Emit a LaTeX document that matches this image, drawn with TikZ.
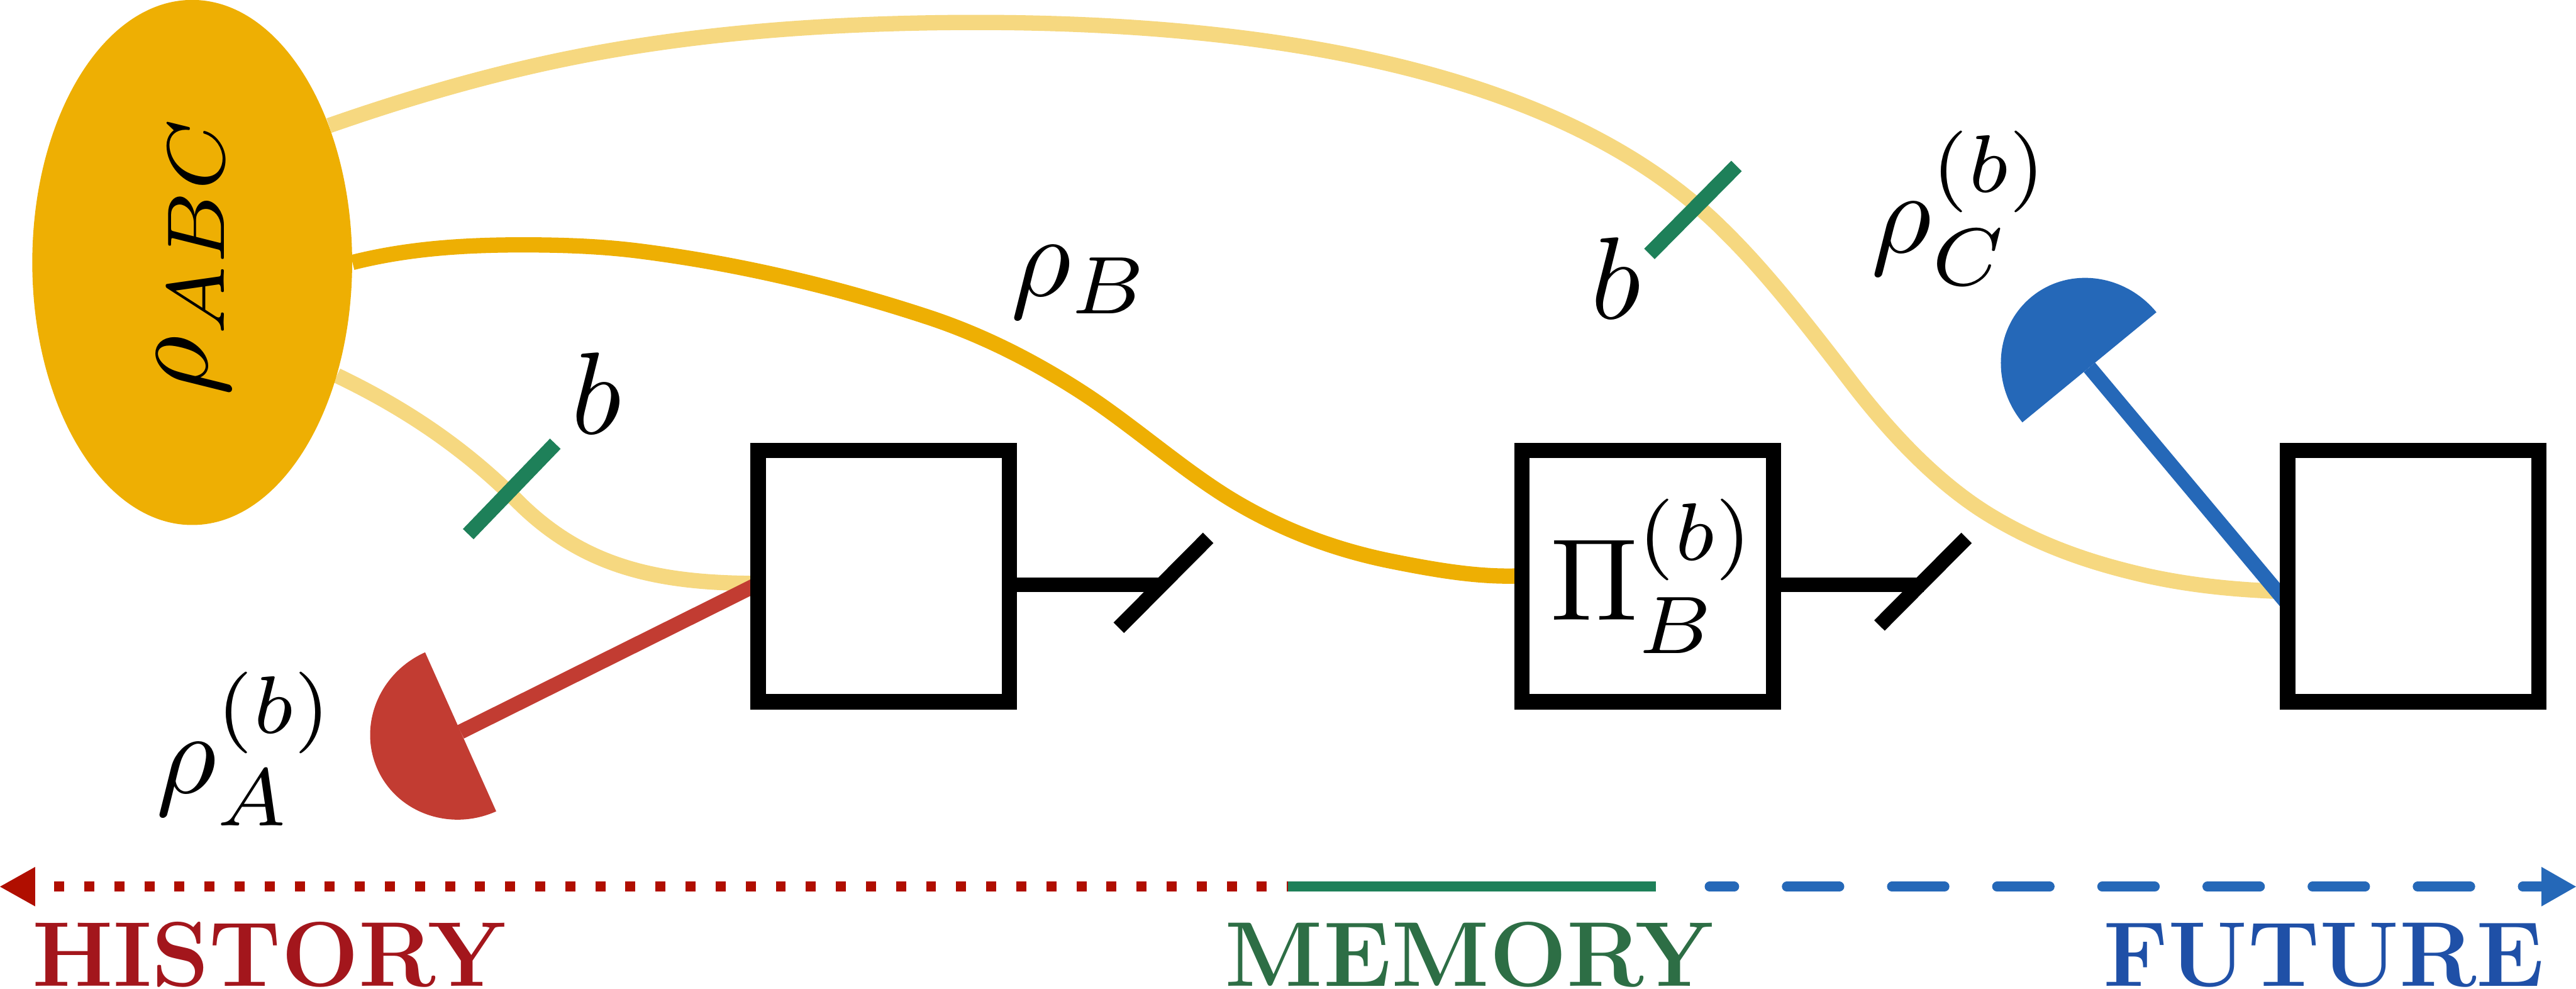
\documentclass[tikz,border=0pt]{standalone}
\usepackage{fix-cm}
\usetikzlibrary{shapes.geometric,arrows.meta}
\definecolor{goldc}{HTML}{EEAF03}
\definecolor{lightgold}{HTML}{F6D880}
\definecolor{greenc}{HTML}{1E8059}
\definecolor{redc}{HTML}{C23C32}
\definecolor{bluec}{HTML}{2568B8}
\definecolor{darkredc}{HTML}{B00E00}
\definecolor{histc}{HTML}{A3161C}
\definecolor{memc}{HTML}{2D6E45}
\definecolor{futc}{HTML}{1F50A7}
\pgfdeclarelayer{back}
\pgfsetlayers{back,main}
\newcommand{\biglabel}[1]{\scalebox{7.1}{#1}}
\newcommand{\stacked}[4][0pt]{\biglabel{$#2$\kern#1\rlap{\raisebox{5.14pt}{$\scriptstyle #3$}}\raisebox{-2.82pt}{$\scriptstyle #4$}}}
\tikzset{
  gatebox/.style={draw=black,fill=white,line width=9.3pt,minimum size=153pt,inner sep=0pt},
  wire/.style={line width=9pt},
  softwire/.style={line width=9.3pt,draw=lightgold},
  goldwire/.style={line width=9.3pt,draw=goldc},
  basis/.style={wire,draw=greenc},
  mathlabel/.style={inner sep=0pt},
  wordlabel/.style={inner sep=0pt,anchor=base west,font=\fontsize{56}{60}\selectfont\bfseries},
  timeline/.style={line width=6pt}
}
\begin{document}
\begin{tikzpicture}[x=1pt,y=1pt,yscale=-1]
\path[use as bounding box] (0,0) rectangle (1568,601.5);
% nodes
\node[ellipse,fill=goldc,inner sep=0pt,minimum width=194.7pt,minimum height=319.5pt] (source) at (117,159.7) {};
\node[mathlabel,rotate=90,anchor=base west] (rhoabc) at (126,241) {\biglabel{$\rho_{ABC}$}};
\node[gatebox] (box1) at (538,350.5) {};
\node[gatebox] (box2) at (1003,350.5) {};
\node[gatebox] (box3) at (1469,350.5) {};
\node[mathlabel,anchor=base west] (pilabel) at (943.5,377.4) {\stacked{\Pi}{(b)}{B}};
\node[mathlabel,anchor=base west] (rhob) at (615,180) {\biglabel{$\rho_{B}$}};
\node[mathlabel,anchor=base west] (rhoc) at (1139,153.6) {\stacked{\rho}{(b)}{C}};
\node[mathlabel,anchor=base west] (rhoa) at (95,482.5) {\stacked{\rho}{(b)}{A}};
\node[mathlabel,anchor=base] (b1) at (363,264) {\biglabel{$b$}};
\node[mathlabel,anchor=base] (b2) at (983.5,194) {\biglabel{$b$}};
\node[wordlabel,text=histc] (history) at (19.5,600) {HISTORY};
\node[wordlabel,text=memc] (memory) at (745.5,600) {MEMORY};
\node[wordlabel,text=futc] (future) at (1280,600) {FUTURE};
% named points
\coordinate (in1) at (462,355);
\coordinate (in3) at (1392,360);
\coordinate (in3b) at (1392,367);
\coordinate (detA) at (280.4,445.3);
\coordinate (detC) at (1271.8,223.5);
\coordinate (cut1a) at (681,382);
\coordinate (cut1b) at (735.4,327.3);
\coordinate (cut1m) at (708,355.8);
\coordinate (cut2a) at (1144,380.6);
\coordinate (cut2b) at (1197,327.3);
\coordinate (cut2m) at (1171,355.8);
\coordinate (bas1a) at (285,325);
\coordinate (bas1b) at (338,270);
\coordinate (bas2a) at (1004,154.5);
\coordinate (bas2b) at (1057,101);
\begin{pgfonlayer}{back}
\draw[softwire] (source.45) .. controls (255,57.3) and (310,41.8) .. (365,31.9)
  .. controls (430,20.2) and (495,15.3) .. (560,14)
  .. controls (760,10) and (950,40) .. (1050,141)
  .. controls (1075.9,166.4) and (1101.7,199.8) .. (1127.6,233.5)
  .. controls (1155.7,270) and (1183.9,297.1) .. (1212,314)
  .. controls (1240.3,331) and (1268.7,341) .. (1297,348)
  .. controls (1328.7,356) and (1360.3,359) .. (in3);
\draw[softwire] (source.-38) .. controls (250,250) and (285,275) .. (315,305)
   .. controls (355,345) and (400,355) .. (in1);
\draw[goldwire] (source.east) .. controls (248.7,151.1) and (283.3,149) .. (318,149)
  .. controls (342.3,149) and (366.7,149.8) .. (391,153)
  .. controls (449,160.5) and (507,173.9) .. (565,193)
  .. controls (596.3,203.3) and (627.7,218.7) .. (659,239)
  .. controls (690.3,259.3) and (721.7,287.7) .. (753,306)
  .. controls (784.3,324.3) and (815.7,335.2) .. (847,341.5)
  .. controls (872.2,346.5) and (897.3,351) .. (box2.west);
\draw[wire,draw=redc] (detA) -- (in1);
\draw[wire,draw=bluec] (detC) -- (in3b);
\end{pgfonlayer}
% detectors
\fill[redc,shift={(detA)},rotate=155.9] (0,53) arc[start angle=90,end angle=-90,x radius=55.5,y radius=53] -- cycle;
\fill[bluec,shift={(detC)},rotate=230.6] (0,52.8) arc[start angle=90,end angle=-90,x radius=55.5,y radius=52.8] -- cycle;
% cut wires
\draw[wire] (box1.east |- cut1m) -- (cut1m);
\draw[wire] (cut1a) -- (cut1b);
\draw[wire] (box2.east |- cut2m) -- (cut2m);
\draw[wire] (cut2a) -- (cut2b);
% basis marks
\draw[basis] (bas1a) -- (bas1b);
\draw[basis] (bas2a) -- (bas2b);
% timeline
\coordinate (tl0) at (0,539.5);
\coordinate (tl2) at (33,539.5);
\coordinate (tl3) at (784,539.5);
\coordinate (tl4) at (1008,539.5);
\coordinate (tl5) at (1040.6,539.5);
\coordinate (tl6) at (1547,539.5);
\coordinate (tl7) at (1568,539.5);
\fill[darkredc] (tl0) -- (21.4,527.5) -- (21.4,551.5) -- cycle;
\draw[timeline,draw=darkredc,dash pattern=on 6.1pt off 12.2pt] (tl2) -- (tl3);
\draw[timeline,draw=greenc] (tl3) -- (tl4);
\draw[timeline,draw=bluec,line cap=round,dash pattern=on 32pt off 32pt,dash phase=17pt] (tl5) -- (tl6);
\fill[bluec] (tl7) -- (1547,527.5) -- (1547,551.5) -- cycle;
\end{tikzpicture}
\end{document}
